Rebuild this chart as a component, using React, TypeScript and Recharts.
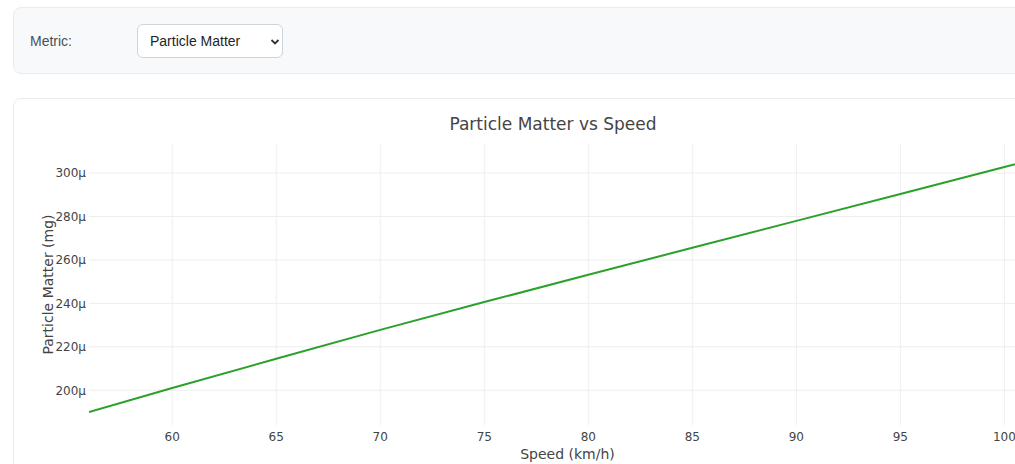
import React from "react";
import { CartesianGrid, Label, Line, LineChart, XAxis, YAxis } from "recharts";

// Speed in km/h, particle matter in µg (shown as "μ" of mg)
const speeds = [56, 60, 65, 70, 75, 80, 85, 90, 95, 100, 102];
const particleMatter = [190, 201, 214.5, 227.8, 240.6, 253.2, 265.6, 278, 290.4, 302.8, 307.8];
const xTicks = [60, 65, 70, 75, 80, 85, 90, 95, 100];
const yTicks = [200, 220, 240, 260, 280, 300];

const data = speeds.map((speed, i) => ({ speed, pm: particleMatter[i] }));

const plotFont = '"DejaVu Sans", Verdana, sans-serif';
const uiFont = '"Liberation Sans", Arial, sans-serif';
const tick = { fill: "#444", fontSize: 12, fontFamily: plotFont };

export default function App() {
  return (
    <div
      style={{
        position: "fixed",
        left: 0,
        top: 0,
        width: 1015,
        height: 464,
        overflow: "hidden",
        background: "#fff",
      }}
    >
      {/* metric selector panel */}
      <div
        style={{
          position: "absolute",
          left: 13,
          top: 7,
          width: 1100,
          height: 65,
          background: "#f8f9fa",
          border: "1px solid #e9ecef",
          borderRadius: 8,
        }}
      >
        <span
          style={{
            position: "absolute",
            left: 16,
            top: 25,
            fontFamily: uiFont,
            fontSize: 14,
            color: "#495057",
          }}
        >
          Metric:
        </span>
        <div
          style={{
            position: "absolute",
            left: 123,
            top: 16,
            width: 144,
            height: 32,
            background: "#fff",
            border: "1px solid #ced4da",
            borderRadius: 6,
          }}
        >
          <span
            style={{
              position: "absolute",
              left: 12,
              top: 8,
              fontFamily: uiFont,
              fontSize: 14,
              color: "#212529",
            }}
          >
            Particle Matter
          </span>
          <svg width={10} height={8} style={{ position: "absolute", left: 132, top: 13 }}>
            <path d="M1.5 2 L5 5.5 L8.5 2" fill="none" stroke="#333" strokeWidth={1.8} />
          </svg>
        </div>
      </div>

      {/* chart card */}
      <div
        style={{
          position: "absolute",
          left: 13,
          top: 98,
          width: 1100,
          height: 420,
          background: "#fff",
          border: "1px solid #e9ecef",
          borderRadius: 8,
        }}
      />
      <div
        style={{
          position: "absolute",
          left: 0,
          width: 1106,
          top: 115.6,
          textAlign: "center",
          fontFamily: plotFont,
          fontSize: 17,
          lineHeight: "17px",
          color: "#444",
        }}
      >
        Particle Matter vs Speed
      </div>
      <div style={{ position: "absolute", left: 14, top: 99 }}>
        <LineChart width={1060} height={365} data={data} margin={{ top: 45, right: 28, bottom: 0, left: 0 }}>
          <CartesianGrid stroke="#eee" strokeWidth={1} syncWithTicks />
          <XAxis
            type="number"
            dataKey="speed"
            domain={[56, 102]}
            ticks={xTicks}
            allowDataOverflow
            axisLine={false}
            tickLine={false}
            tickSize={0}
            tickMargin={7}
            height={39}
            tick={tick}
          >
            <Label
              value="Speed (km/h)"
              position="insideBottom"
              offset={5}
              style={{ fill: "#444", fontSize: 14, fontFamily: plotFont }}
            />
          </XAxis>
          <YAxis
            type="number"
            domain={[184, 313.4]}
            ticks={yTicks}
            allowDataOverflow
            axisLine={false}
            tickLine={false}
            tickSize={0}
            tickMargin={3}
            width={75}
            tick={tick}
            tickFormatter={(v) => `${v}μ`}
          >
            <Label
              value="Particle Matter (mg)"
              angle={-90}
              position="insideLeft"
              offset={34}
              style={{ fill: "#444", fontSize: 14, fontFamily: plotFont, textAnchor: "middle" }}
            />
          </YAxis>
          <Line
            type="linear"
            dataKey="pm"
            stroke="#2ca02c"
            strokeWidth={2}
            dot={false}
            activeDot={false}
            isAnimationActive={false}
          />
        </LineChart>
      </div>
    </div>
  );
}
